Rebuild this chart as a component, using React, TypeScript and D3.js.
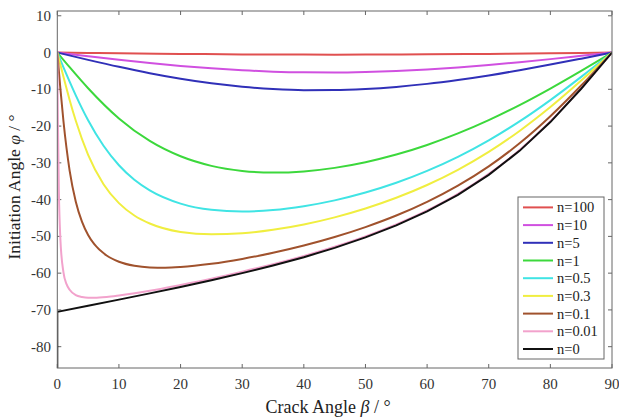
import React from "react";
import * as d3 from "d3";

// [beta, phi] pairs
const n100: [number, number][] = [[0, 0], [5, -0.1], [10, -0.2], [20, -0.37], [30, -0.5], [40, -0.56], [45, -0.57], [50, -0.56], [60, -0.49], [70, -0.37], [80, -0.19], [85, -0.1], [90, 0]];
const n10: [number, number][] = [[0, 0], [5, -0.99], [10, -1.95], [15, -2.84], [20, -3.63], [25, -4.3], [30, -4.82], [35, -5.19], [40, -5.39], [45, -5.44], [50, -5.3], [55, -5.02], [60, -4.6], [65, -4.04], [70, -3.38], [75, -2.62], [80, -1.79], [85, -0.9], [90, 0]];
const n5: [number, number][] = [[0, 0], [5, -1.99], [10, -3.89], [15, -5.62], [20, -7.13], [25, -8.37], [30, -9.3], [35, -9.92], [40, -10.23], [45, -10.22], [50, -9.92], [55, -9.34], [60, -8.52], [65, -7.46], [70, -6.22], [75, -4.81], [80, -3.28], [85, -1.66], [90, 0]];
const n1: [number, number][] = [[0, 0], [2, -3.98], [5, -9.71], [10, -17.93], [15, -24.05], [20, -28.22], [25, -30.82], [30, -32.2], [35, -32.65], [40, -32.33], [45, -31.37], [50, -29.82], [55, -27.74], [60, -25.13], [65, -22.0], [70, -18.38], [75, -14.28], [80, -9.78], [85, -4.97], [90, 0]];
const n05: [number, number][] = [[0, 0], [1, -4.01], [2, -7.89], [3, -11.63], [5, -18.41], [7.5, -25.36], [10, -30.65], [12.5, -34.6], [15, -37.48], [20, -41.08], [25, -42.77], [30, -43.22], [35, -42.85], [40, -41.8], [45, -40.21], [50, -38.08], [55, -35.43], [60, -32.2], [65, -28.38], [70, -23.89], [75, -18.73], [80, -12.93], [85, -6.62], [90, 0]];
const n03: [number, number][] = [[0, 0], [1, -6.6], [2, -12.88], [3, -18.56], [5, -27.82], [7.5, -35.8], [10, -40.96], [12.5, -44.32], [15, -46.5], [20, -48.79], [25, -49.45], [30, -49.17], [35, -48.22], [40, -46.77], [45, -44.83], [50, -42.42], [55, -39.51], [60, -36.03], [65, -31.9], [70, -27.02], [75, -21.33], [80, -14.83], [85, -7.62], [90, 0]];
const n01: [number, number][] = [[0, 0], [0.5, -9.82], [1, -18.69], [2, -32.09], [3, -40.58], [4, -45.99], [5, -49.61], [6, -52.13], [8, -55.21], [10, -56.9], [12.5, -58.0], [15, -58.45], [17.5, -58.52], [20, -58.34], [25, -57.47], [30, -56.14], [35, -54.47], [40, -52.49], [45, -50.17], [50, -47.47], [55, -44.33], [60, -40.61], [65, -36.2], [70, -30.95], [75, -24.69], [80, -17.33], [85, -8.98], [90, 0]];
const n001: [number, number][] = [[0, 0], [0.05, -9.8], [0.1, -18.7], [0.25, -37.2], [0.5, -50.8], [1, -59.8], [1.5, -63.0], [2, -64.5], [3, -66.0], [4, -66.5], [5, -66.7], [6, -66.7], [8, -66.5], [10, -66.1], [15, -64.8], [20, -63.2], [25, -61.5], [30, -59.6], [35, -57.57], [40, -55.3], [45, -52.8], [50, -50.0], [55, -46.74], [60, -42.95], [65, -38.44], [70, -33.0], [75, -26.52], [80, -18.7], [85, -9.76], [90, 0]];
const n0: [number, number][] = [[0, -90], [0, -70.53], [5, -68.88], [10, -67.2], [15, -65.5], [20, -63.75], [25, -61.93], [30, -60], [35, -57.92], [40, -55.66], [45, -53.13], [50, -50.28], [55, -47.02], [60, -43.22], [65, -38.71], [70, -33.28], [75, -26.74], [80, -18.91], [85, -9.85], [90, 0]];

const seriesNames = ["n=100", "n=10", "n=5", "n=1", "n=0.5", "n=0.3", "n=0.1", "n=0.01", "n=0"];
const seriesData = [n100, n10, n5, n1, n05, n03, n01, n001, n0];
const seriesColors = ["#e05050", "#d050e0", "#3030b8", "#3cd83c", "#40e4e4", "#f0ee40", "#a0522d", "#f2a2cc", "#111111"];

const xTicks = [0, 10, 20, 30, 40, 50, 60, 70, 80, 90];
const yTicks = [10, 0, -10, -20, -30, -40, -50, -60, -70, -80];

const W = 619;
const H = 419;
const left = 57.3, right = 612, top = 11, bottom = 368;

export default function App() {
  const x = d3.scaleLinear().domain([0, 90]).range([left, right]);
  const y = d3.scaleLinear().domain([-85.8, 11.3]).range([bottom, top]);
  const smooth = d3.line<[number, number]>().x((d) => x(d[0])).y((d) => y(d[1])).curve(d3.curveMonotoneX);
  const straight = d3.line<[number, number]>().x((d) => x(d[0])).y((d) => y(d[1]));
  const font = "'Liberation Serif', 'Times New Roman', serif";
  const axisColor = "#666";
  const tick = 4;

  const legX = 518, legY = 197, legW = 86, legH = 162, rowH = 17.7;

  return (
    <svg width={W} height={H} style={{ position: "absolute", left: 0, top: 0, background: "#fff" }} fontFamily={font}>
      <defs>
        <clipPath id="plot">
          <rect x={left} y={top} width={right - left} height={bottom - top} />
        </clipPath>
      </defs>

      {/* ticks on all four sides */}
      {xTicks.map((t) => (
        <g key={"x" + t}>
          <line x1={x(t)} x2={x(t)} y1={bottom} y2={bottom - tick} stroke={axisColor} />
          <line x1={x(t)} x2={x(t)} y1={top} y2={top + tick} stroke={axisColor} />
          <text x={x(t)} y={389} textAnchor="middle" fontSize={15} fill="#333">{t}</text>
        </g>
      ))}
      {yTicks.map((t) => (
        <g key={"y" + t}>
          <line x1={left} x2={left + tick} y1={y(t)} y2={y(t)} stroke={axisColor} />
          <line x1={right} x2={right - tick} y1={y(t)} y2={y(t)} stroke={axisColor} />
          <text x={51} y={y(t) + 5} textAnchor="end" fontSize={15} fill="#333">{t}</text>
        </g>
      ))}

      <g clipPath="url(#plot)" fill="none">
        {seriesData.map((d, i) => (
          <path key={seriesNames[i]} d={(i === 8 ? straight(d) : smooth(d)) || ""} stroke={seriesColors[i]} strokeWidth={2} />
        ))}
      </g>

      <rect x={left} y={top} width={right - left} height={bottom - top} fill="none" stroke={axisColor} />

      {/* legend */}
      <rect x={legX} y={legY} width={legW} height={legH} fill="#fff" stroke={axisColor} />
      {seriesNames.map((name, i) => {
        const ry = legY + 10.4 + i * rowH;
        return (
          <g key={"leg" + name}>
            <line x1={legX + 5} x2={legX + 35} y1={ry} y2={ry} stroke={seriesColors[i]} strokeWidth={2} />
            <text x={legX + 39} y={ry + 5} fontSize={14.5} fill="#222">{name}</text>
          </g>
        );
      })}

      <text x={328} y={413} textAnchor="middle" fontSize={18} fill="#222">
        Crack Angle <tspan fontStyle="italic">β</tspan> / °
      </text>
      <text transform="translate(20, 187) rotate(-90)" textAnchor="middle" fontSize={17.5} fill="#222">
        Initiation Angle <tspan fontStyle="italic">φ</tspan> / °
      </text>
    </svg>
  );
}
